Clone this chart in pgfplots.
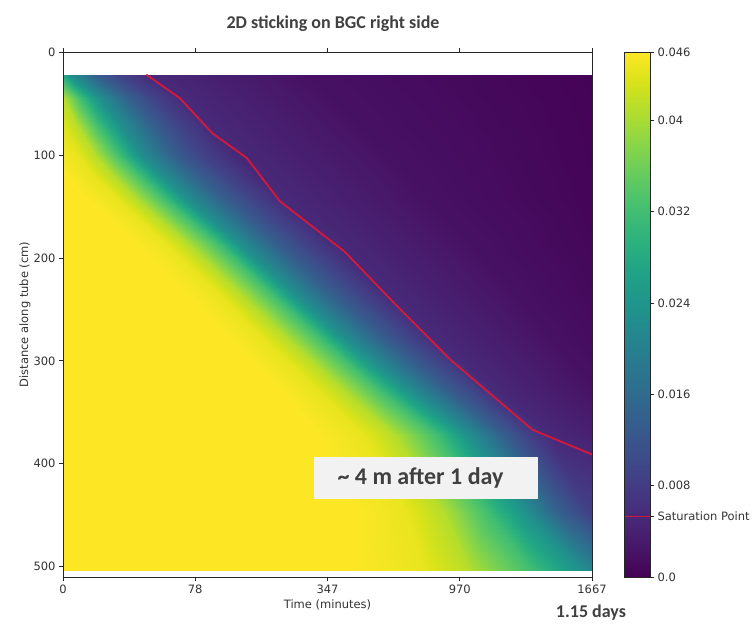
\documentclass[border=0pt]{standalone}
\usepackage{pgfplots}
\pgfplotsset{compat=1.18}
\usepackage{fontspec}
\setmainfont{DejaVu Sans}
\newfontfamily\slidefont{Carlito}
\definecolor{satred}{RGB}{214,24,58}
\definecolor{txtgray}{RGB}{64,64,64}
\definecolor{boxgray}{RGB}{242,242,242}

\begin{document}
\begin{tikzpicture}
\path[use as bounding box] (0,0) rectangle (754pt,626pt);
\pgfplotsset{
  mplstyle/.style={
    scale only axis, anchor=south west,
    enlargelimits=false,
    tick align=outside, major tick length=4pt,
    tick style={black!85, line width=0.7pt},
    axis line style={black!85, line width=0.8pt},
    tick label style={font=\fontsize{11.5}{13}\selectfont, text=black!80},
    /pgf/number format/assume math mode=true,
    colormap/viridis,
    point meta min=0, point meta max=0.046,
  }
}
% concentration field on the tube wall (time index vs distance)
\begin{axis}[mplstyle, at={(63pt,49pt)}, width=529pt, height=525pt,
  xmin=0, xmax=4, ymin=0, ymax=510, y dir=reverse,
  xtick={0,1,2,3,4}, xticklabels={0,78,347,970,1667},
  xtick pos=both, xticklabel pos=lower,
  ytick={0,100,200,300,400,500}, ytick pos=left,
  axis on top]
\addplot[surf, shader=interp, mesh/cols=11, point meta=\thisrow{c}] table {
x y c
0 22 0.028
0 22 0.028
0 22 0.028
0 22 0.028
0 22 0.028
0.05 22 0.023
0.25 22 0.0138
0.42 22 0.0092
0.65 22 0.0053
1.8 22 0.002
4 22 0.0002
0 45 0.041
0 45 0.041
0 45 0.041
0 45 0.041
0.13 45 0.032
0.27 45 0.023
0.5 45 0.0138
0.68 45 0.0092
0.9 45 0.0053
2.0 45 0.002
4 45 0.0003
0 70 0.0437
0 70 0.0437
0 70 0.0437
0.1 70 0.041
0.26 70 0.032
0.42 70 0.023
0.67 70 0.0138
0.86 70 0.0092
1.1 70 0.0053
2.2 70 0.002
4 70 0.00035
0 100 0.0453
0 100 0.0453
0.104 100 0.0445
0.24 100 0.041
0.42 100 0.032
0.58 100 0.023
0.84 100 0.0138
1.04 100 0.0092
1.3 100 0.0053
2.45 100 0.002
4 100 0.0004
0 120 0.046
0.01 120 0.046
0.23 120 0.0445
0.38 120 0.041
0.58 120 0.032
0.75 120 0.023
1.02 120 0.0138
1.23 120 0.0092
1.47 120 0.0053
2.6 120 0.002
4 120 0.00045
0 145 0.046
0.19 145 0.046
0.42 145 0.0445
0.57 145 0.041
0.79 145 0.032
0.95 145 0.023
1.23 145 0.0138
1.45 145 0.0092
1.68 145 0.0053
2.75 145 0.002
4 145 0.0005
0 189 0.046
0.58 189 0.046
0.81 189 0.0445
0.97 189 0.041
1.2 189 0.032
1.36 189 0.023
1.63 189 0.0138
1.85 189 0.0092
2.09 189 0.0053
3.1 189 0.002
4 189 0.0007
0 234 0.046
0.92 234 0.046
1.17 234 0.0445
1.33 234 0.041
1.57 234 0.032
1.74 234 0.023
2.02 234 0.0138
2.24 234 0.0092
2.45 234 0.0053
3.4 234 0.002
4 234 0.001
0 280 0.046
1.26 280 0.046
1.52 280 0.0445
1.7 280 0.041
1.96 280 0.032
2.14 280 0.023
2.43 280 0.0138
2.64 280 0.0092
2.82 280 0.0053
3.7 280 0.002
4 280 0.0014
0 324 0.046
1.59 324 0.046
1.88 324 0.0445
2.08 324 0.041
2.36 324 0.032
2.57 324 0.023
2.86 324 0.0138
3.07 324 0.0092
3.22 324 0.0053
4 324 0.002
4 324 0.002
0 372 0.046
1.93 372 0.046
2.27 372 0.0445
2.5 372 0.041
2.83 372 0.032
3.07 372 0.023
3.33 372 0.0138
3.5 372 0.0092
3.68 372 0.0053
4 372 0.004
4 372 0.004
0 448 0.046
2.23 448 0.046
2.61 448 0.0445
2.87 448 0.041
3.21 448 0.032
3.51 448 0.023
3.76 448 0.0138
3.96 448 0.0092
4 448 0.0087
4 448 0.0087
4 448 0.0087
0 504 0.046
2.21 504 0.046
2.73 504 0.0445
3.07 504 0.041
3.55 504 0.032
3.93 504 0.023
4 504 0.0213
4 504 0.0213
4 504 0.0213
4 504 0.0213
4 504 0.0213
};
% saturation front
\addplot[satred, line width=1.8pt] coordinates {
(0.63,22) (0.885,45) (1.13,79) (1.39,103) (1.64,145) (2.13,194)
(2.55,250) (2.93,299) (3.55,367) (4.0,391)};
\end{axis}

% colour bar
\begin{axis}[mplstyle, at={(624pt,49pt)}, width=26pt, height=525pt,
  xmin=0, xmax=1, ymin=0, ymax=0.046, xtick=\empty,
  scaled y ticks=false,
  ytick={0,0.008,0.016,0.024,0.032,0.04,0.046},
  yticklabels={0.0,0.008,0.016,0.024,0.032,0.04,0.046},
  extra y ticks={0.0053}, extra y tick labels={Saturation Point},
  ytick pos=right, yticklabel pos=right,
  axis on top]
\addplot[surf, shader=interp, mesh/cols=2, point meta=\thisrow{c}] table {
x y c
0 0 0
1 0 0
0 0.0023 0.0023
1 0.0023 0.0023
0 0.0046 0.0046
1 0.0046 0.0046
0 0.0069 0.0069
1 0.0069 0.0069
0 0.0092 0.0092
1 0.0092 0.0092
0 0.0115 0.0115
1 0.0115 0.0115
0 0.0138 0.0138
1 0.0138 0.0138
0 0.0161 0.0161
1 0.0161 0.0161
0 0.0184 0.0184
1 0.0184 0.0184
0 0.0207 0.0207
1 0.0207 0.0207
0 0.023 0.023
1 0.023 0.023
0 0.0253 0.0253
1 0.0253 0.0253
0 0.0276 0.0276
1 0.0276 0.0276
0 0.0299 0.0299
1 0.0299 0.0299
0 0.0322 0.0322
1 0.0322 0.0322
0 0.0345 0.0345
1 0.0345 0.0345
0 0.0368 0.0368
1 0.0368 0.0368
0 0.0391 0.0391
1 0.0391 0.0391
0 0.0414 0.0414
1 0.0414 0.0414
0 0.0437 0.0437
1 0.0437 0.0437
0 0.046 0.046
1 0.046 0.046
};
\addplot[satred, line width=1.5pt] coordinates {(0,0.0053) (1,0.0053)};
\end{axis}

% titles and annotations
\node[font=\slidefont\bfseries\fontsize{18}{20}\selectfont, text=txtgray] at (333pt,602pt) {2D sticking on BGC right side};
\node[font=\fontsize{11.5}{13}\selectfont, text=black!80] at (327.5pt,21pt) {Time (minutes)};
\node[rotate=90, font=\fontsize{11.5}{13}\selectfont, text=black!80] at (25pt,311.5pt) {Distance along tube (cm)};
\node[font=\slidefont\bfseries\fontsize{18}{20}\selectfont, text=txtgray] at (591pt,13pt) {1.15 days};
\fill[boxgray] (314pt,127pt) rectangle (538pt,169pt);
\node[font=\slidefont\bfseries\fontsize{24}{26}\selectfont, text=txtgray] at (420.5pt,148pt) {\textasciitilde{} 4 m after 1 day};
\end{tikzpicture}
\end{document}
